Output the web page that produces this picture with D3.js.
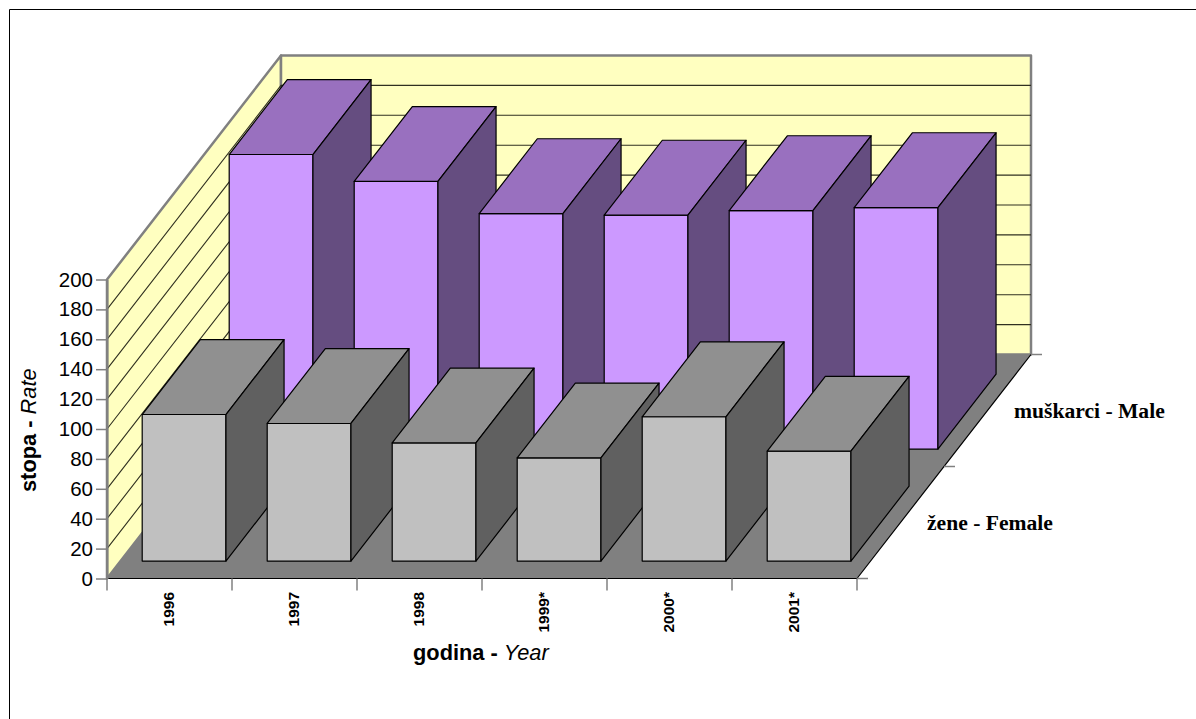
<!DOCTYPE html>
<html><head><meta charset="utf-8">
<script src="https://cdn.jsdelivr.net/npm/d3@7"></script>
<style>html,body{margin:0;padding:0;background:#fff}svg{display:block}</style>
</head><body><div id="chart"></div>
<script>
const categories = ["1996","1997","1998","1999*","2000*","2001*"];
const male = [197, 179, 157.5, 156.5, 159.5, 161.5];
const female = [98, 92, 79, 69, 96.5, 73.5];
const yTicks = [0,20,40,60,80,100,120,140,160,180,200];
const seriesNames = ["žene - Female","muškarci - Male"];

const W=1196,H=719;
const svg=d3.select("#chart").append("svg").attr("width",W).attr("height",H);
const x0=107,y0=578.5,plotW=750,plotH=299,dx=174,dy=224;
const xBand=d3.scaleBand().domain(categories).range([1,plotW+1]).paddingInner(0.33).paddingOuter(0.165);
const xEdge=d3.scaleBand().domain(categories).range([x0,x0+plotW]);
const yH=d3.scaleLinear().domain([0,200]).range([0,plotH]);
const yAxisScale=d3.scaleLinear().domain([0,200]).range([y0,y0-plotH]);
const zScale=d3.scaleLinear().domain([0,2]).range([0,1]);
const P=(x,v,d)=>[x0+x+d*dx, y0-yH(v)-d*dy];
const line=pts=>"M"+pts.map(p=>p.join(",")).join("L")+"Z";
const poly=(pts,fill,stroke="#000",sw=1.2)=>svg.append("path").attr("d",line(pts)).attr("fill",fill)
  .attr("stroke",stroke).attr("stroke-width",sw).attr("stroke-linejoin","round");

// outer frame
svg.append("path").attr("d",`M9.5,${H}V9.5H${W}`).attr("fill","none").attr("stroke","#000").attr("stroke-width",1);

// walls
const wallFill="#FFFFC0", wallStroke="#808080";
poly([P(0,0,0),P(0,200,0),P(0,200,1),P(0,0,1)],wallFill,wallStroke,2.5);
poly([P(0,0,1),P(0,200,1),P(plotW,200,1),P(plotW,0,1)],wallFill,wallStroke,2.5);
// gridlines
yTicks.filter(t=>t>0&&t<200).forEach(t=>{
  svg.append("path").attr("d","M"+[P(0,t,0),P(0,t,1),P(plotW,t,1)].map(p=>p.join(",")).join("L"))
   .attr("fill","none").attr("stroke","#303020").attr("stroke-width",1.1);
});
// floor
poly([P(0,0,0),P(plotW,0,0),P(plotW,0,1),P(0,0,1)],"#808080","none",0);
svg.append("path").attr("d","M"+[P(0,0,0),P(plotW,0,0),P(plotW,0,1)].map(p=>p.join(",")).join("L"))
  .attr("fill","none").attr("stroke","#000").attr("stroke-width",1.2);

// bars
function bars(values,row,front,top,side){
  const dA=zScale(row)+0.078, dB=zScale(row)+0.412;
  categories.forEach((c,i)=>{
    const a=xBand(c), b=a+xBand.bandwidth(), v=values[i];
    poly([P(a,0,dA),P(b,0,dA),P(b,v,dA),P(a,v,dA)],front);
    poly([P(a,v,dA),P(b,v,dA),P(b,v,dB),P(a,v,dB)],top);
    poly([P(b,0,dA),P(b,0,dB),P(b,v,dB),P(b,v,dA)],side);
  });
}
bars(male,1,"#CC99FF","#9970BF","#654D80");
bars(female,0,"#C0C0C0","#909090","#606060");

// y axis
const yAxis=d3.axisLeft(yAxisScale).tickValues(yTicks).tickSize(11).tickPadding(3).tickSizeOuter(0);
const gy=svg.append("g").attr("transform",`translate(${x0},0)`).call(yAxis);
gy.selectAll("line").attr("stroke","#808080").attr("stroke-width",1.5);
gy.select(".domain").attr("stroke","#808080").attr("stroke-width",2);
gy.selectAll("text").attr("font-family","Liberation Sans").attr("font-size",20.5).attr("fill","#000");

// x axis ticks
const edges=categories.map(c=>xEdge(c)).concat([x0+plotW]);
svg.append("g").selectAll("line").data(edges).join("line")
  .attr("x1",d=>d).attr("x2",d=>d).attr("y1",y0).attr("y2",y0+12)
  .attr("stroke","#808080").attr("stroke-width",1.5);
svg.append("g").selectAll("text").data(categories).join("text")
  .attr("transform",c=>`translate(${xEdge(c)+xEdge.bandwidth()/2+4},592) rotate(-90)`)
  .attr("text-anchor","end").attr("font-family","Liberation Sans").attr("font-weight","bold")
  .attr("font-size",15.5).text(d=>d);

// depth axis
[0,1,2].forEach(k=>{
  const p=P(plotW,0,zScale(k));
  svg.append("line").attr("x1",p[0]).attr("x2",p[0]+11).attr("y1",p[1]).attr("y2",p[1])
    .attr("stroke","#808080").attr("stroke-width",1.5);
});

// series labels
const serif=(x,y,t)=>svg.append("text").attr("x",x).attr("y",y).attr("font-family","Liberation Serif")
  .attr("font-weight","bold").attr("font-size",21.6).attr("fill","#000").text(t);
serif(927,530,seriesNames[0]);
serif(1014,418,seriesNames[1]);

// axis titles
const title=(sel,bold,ital)=>{
  sel.attr("font-family","Liberation Sans").attr("font-size",21.8).attr("fill","#000");
  sel.append("tspan").attr("font-weight","bold").text(bold);
  sel.append("tspan").attr("font-style","italic").text(ital);
};
title(svg.append("text").attr("x",413).attr("y",660).attr("xml:space","preserve"),"godina - ","Year");
title(svg.append("text").attr("transform","translate(36,492) rotate(-90)").attr("xml:space","preserve"),"stopa - ","Rate");
</script></body></html>
